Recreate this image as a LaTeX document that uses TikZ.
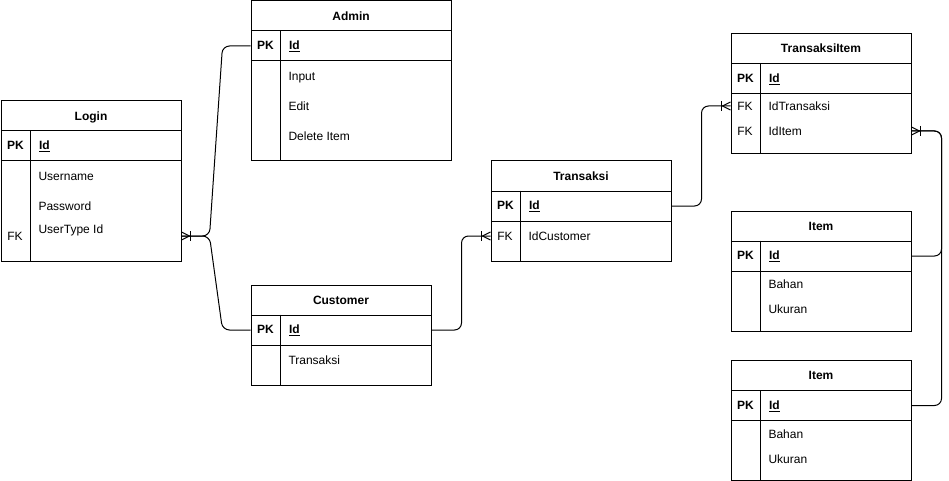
\documentclass[tikz,border=0pt]{standalone}
\usepackage{fontspec}
\setmainfont{Liberation Sans}
\usetikzlibrary{calc}
\newcommand\ertable[6]{%
  \node[tblbox, minimum width=#4, minimum height=#5] (#1) at (#2,#3) {};
  \node[tblbox, minimum width=#4, minimum height=30] (#1-title) at (#2,#3) {\bfseries #6};
  \node[tblbox, minimum width=#4, minimum height=30] (#1-pk) at (#2,#3+30) {};
  \draw (#2+30,#3+30) -- (#2+30,#3+#5);
  \node[keytext] (#1-pklabel) at (#2+15,#3+45) {\bfseries PK};
  \node[fieldtext] (#1-id) at (#2+38,#3+45) {\bfseries\underline{Id}};
}
\newcommand\crowfoot[2]{%
  \begin{scope}[shift={(#1)}, xscale=#2]
    \draw (0,-4) -- (8,0) -- (0,4);
    \draw (9,-5) -- (9,5);
  \end{scope}
}
\begin{document}
\begin{tikzpicture}[x=1pt, y=-1pt, line width=1pt,
  font=\fontsize{12}{14}\selectfont,
  tblbox/.style={draw, anchor=north west, inner sep=0pt, align=center, text height=8.6pt, text depth=0pt},
  keytext/.style={anchor=center, inner sep=0pt, text height=8.6pt, text depth=0pt},
  fieldtext/.style={anchor=west, inner sep=0pt, text height=8.6pt, text depth=0pt},
  rel/.style={rounded corners=7pt}]
\useasboundingbox (0,0) rectangle (949,481);

% Login
\ertable{login}{0.5}{100.5}{180}{160}{Login}
\node[fieldtext] (login-f1) at (38,176) {Username};
\node[fieldtext] (login-f2) at (38,206) {Password};
\node[fieldtext] (login-f3) at (38,229) {UserType Id};
\node[keytext] (login-fk) at (15,236) {FK};

% Admin
\ertable{admin}{250.5}{0.5}{200}{160}{Admin}
\node[fieldtext] (admin-f1) at (288,76) {Input};
\node[fieldtext] (admin-f2) at (288,106) {Edit};
\node[fieldtext] (admin-f3) at (288,136) {Delete Item};

% Customer
\ertable{customer}{250.5}{284.5}{180}{100}{Customer}
\node[fieldtext] (customer-f1) at (288,360) {Transaksi};

% Transaksi
\ertable{transaksi}{490.5}{160.5}{180}{100}{Transaksi}
\node[keytext] (transaksi-fk) at (505,236) {FK};
\node[fieldtext] (transaksi-f1) at (528,236) {IdCustomer};

% TransaksiItem
\ertable{ti}{730.5}{33}{180}{120}{TransaksiItem}
\node[keytext] (ti-fk1) at (745,106) {FK};
\node[fieldtext] (ti-f1) at (768,106) {IdTransaksi};
\node[keytext] (ti-fk2) at (745,131) {FK};
\node[fieldtext] (ti-f2) at (768,131) {IdItem};

% Item 1
\ertable{itema}{730.5}{210.5}{180}{120}{Item}
\node[fieldtext] (itema-f1) at (768,284) {Bahan};
\node[fieldtext] (itema-f2) at (768,309) {Ukuran};

% Item 2
\ertable{itemb}{730.5}{360}{180}{120}{Item}
\node[fieldtext] (itemb-f1) at (768,434) {Bahan};
\node[fieldtext] (itemb-f2) at (768,459) {Ukuran};

% connection points
\coordinate (loginR) at (login.east |- login-fk);
\coordinate (transL) at (transaksi.west |- transaksi-fk);
\coordinate (tiL) at (ti.west |- ti-fk1);
\coordinate (tiR) at (ti.east |- ti-fk2);

% connectors
\draw[rel] (loginR) -- ++(28,0) -- ($(admin-pk.west)+(-28,0)$) -- (admin-pk.west);
\draw[rel] (loginR) -- ++(28,0) -- ($(customer-pk.west)+(-28,0)$) -- (customer-pk.west);
\draw[rel] (customer-pk.east) -- ++(30,0) |- (transL);
\draw[rel] (transaksi-pk.east) -- ++(30,0) |- (tiL);
\draw[rel] (itema-pk.east) -- ++(30,0) |- (tiR);
\draw[rel] (itemb-pk.east) -- ++(30,0) |- (tiR);

% crow's feet
\crowfoot{loginR}{1}
\crowfoot{transL}{-1}
\crowfoot{tiL}{-1}
\crowfoot{tiR}{1}
\end{tikzpicture}
\end{document}
